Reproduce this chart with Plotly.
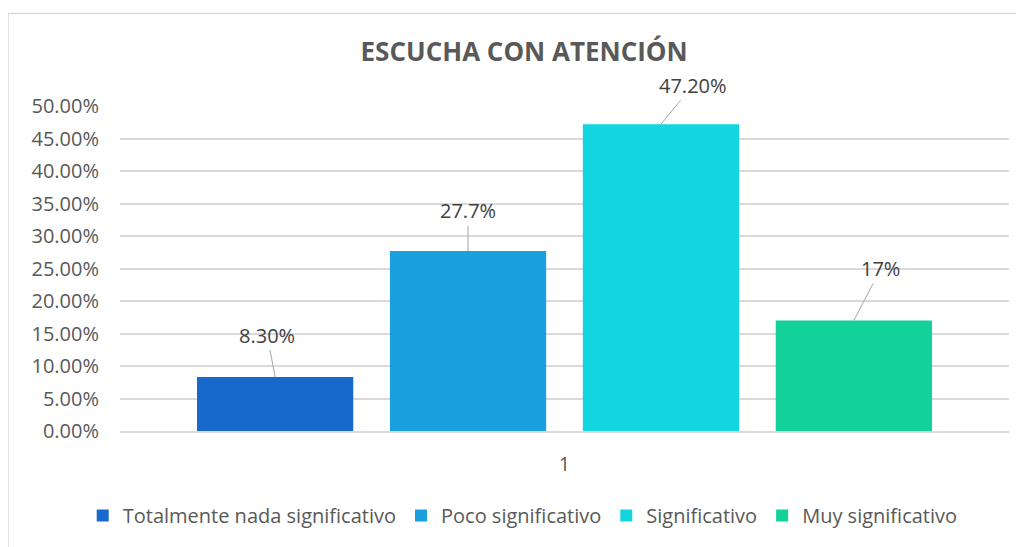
import plotly.graph_objects as go

categories = ["1"]
series_names = ["Totalmente nada significativo", "Poco significativo", "Significativo", "Muy significativo"]
values = [0.083, 0.277, 0.472, 0.17]
labels = ["8.30%", "27.7%", "47.20%", "17%"]
colors = ["#1869cc", "#1aa0de", "#12d5df", "#12d299"]

# label offsets (pixels) for the leader lines
label_dx = [-8, 0, 32, 27]
label_dy = [-42, -40, -39, -52]

grey = "#595959"
font_family = "Open Sans"

fig = go.Figure()
for name, v, c in zip(series_names, values, colors):
    fig.add_trace(go.Bar(x=categories, y=[v], name=name, marker=dict(color=c, line=dict(width=0))))

bargap = 0.132
slot = (1 - bargap) / len(values)
for i, (v, lab) in enumerate(zip(values, labels)):
    xc = -(1 - bargap) / 2 + slot * (i + 0.5)
    fig.add_annotation(x=xc, y=v, xref="x", yref="y", text=lab, showarrow=True,
                       arrowhead=0, arrowwidth=1, arrowcolor="#a6a6a6",
                       ax=label_dx[i], ay=label_dy[i], standoff=0,
                       font=dict(size=20, color="#404040", family=font_family))

fig.update_layout(
    width=1016, height=539,
    margin=dict(l=112, r=15, t=98, b=107),
    paper_bgcolor="white", plot_bgcolor="white",
    barmode="group", bargap=bargap, bargroupgap=0.19,
    title=dict(text="<b>ESCUCHA CON ATENCIÓN</b>", x=0.508, xanchor="center", y=0.918, yanchor="middle",
               font=dict(size=26, color=grey, family=font_family)),
    font=dict(family=font_family, color=grey, size=20),
    showlegend=True,
    legend=dict(orientation="h", x=0.453, xanchor="center", y=-0.26, yanchor="middle",
                font=dict(size=20, color=grey), itemwidth=30, traceorder="normal"),
    shapes=[dict(type="rect", xref="paper", yref="paper", x0=-0.126, x1=1.1, y0=-0.5, y1=1.285,
                 line=dict(color="#d9d9d9", width=1.5), fillcolor="rgba(0,0,0,0)", layer="below")],
)
fig.update_yaxes(range=[0, 0.5], dtick=0.05, tickformat=".2%", showgrid=True, gridcolor="#d9d9d9",
                 gridwidth=1.5, zeroline=False, showline=False, ticks="", ticklabelstandoff=20,
                 tickfont=dict(size=20, color=grey))
fig.update_xaxes(showline=True, linecolor="#d9d9d9", linewidth=1.5, ticks="", ticklabelstandoff=14,
                 tickfont=dict(size=20, color=grey))

fig.write_html("out.html")
